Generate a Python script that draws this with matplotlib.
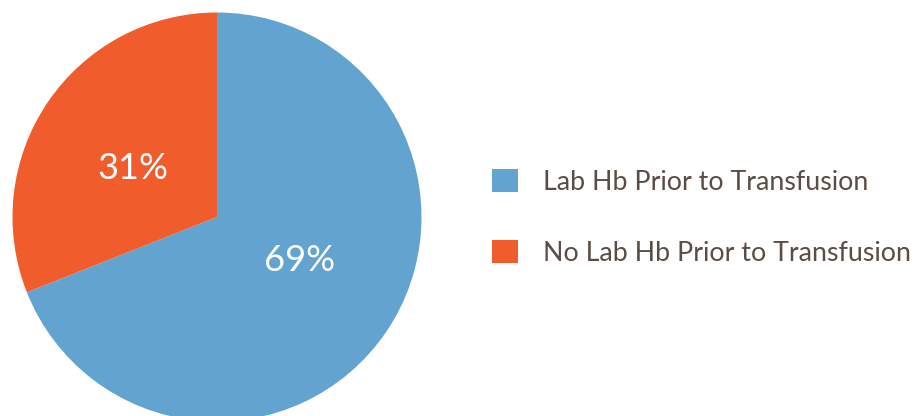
import matplotlib
matplotlib.use('Agg')
import matplotlib.pyplot as plt
from matplotlib.patches import Patch

# ---- Data
labels = ['Lab Hb Prior to Transfusion', 'No Lab Hb Prior to Transfusion']
shares = [69, 31]
colors = ['#62a3d0', '#f05c2c']

plt.rcParams['font.family'] = ['Lato', 'DejaVu Sans']

W, H = 916, 416
fig = plt.figure(figsize=(W / 100, H / 100), dpi=100)

# Pie centre at (217, 217) px, radius ~204.5 px
cx, cy, r = 217, 217, 204.5
ax = fig.add_axes([(cx - r) / W, (H - cy - r) / H, 2 * r / W, 2 * r / H])
wedges, texts, autotexts = ax.pie(
    shares, colors=colors, startangle=90, counterclock=False,
    autopct='%.0f%%', pctdistance=0.47, radius=1,
    wedgeprops=dict(linewidth=0),
    textprops=dict(color='white', fontsize=26))
# nudge the percentage labels to where the reference puts them
autotexts[0].set_position((0.406, -0.215))
autotexts[1].set_position((-0.411, 0.235))
ax.set_xlim(-1, 1)
ax.set_ylim(-1, 1)
ax.set_aspect('equal')
ax.axis('off')

handles = [Patch(facecolor=c, edgecolor='none') for c in colors]
fig.legend(handles, labels, loc='upper left',
           bbox_to_anchor=(492 / W, 1 - 169 / H),
           frameon=False, fontsize=19.3, labelcolor='#5b4c44',
           handlelength=0.97, handleheight=0.97, handletextpad=0.95,
           labelspacing=1.68, borderpad=0, borderaxespad=0)

fig.savefig('out.png', dpi=100)
